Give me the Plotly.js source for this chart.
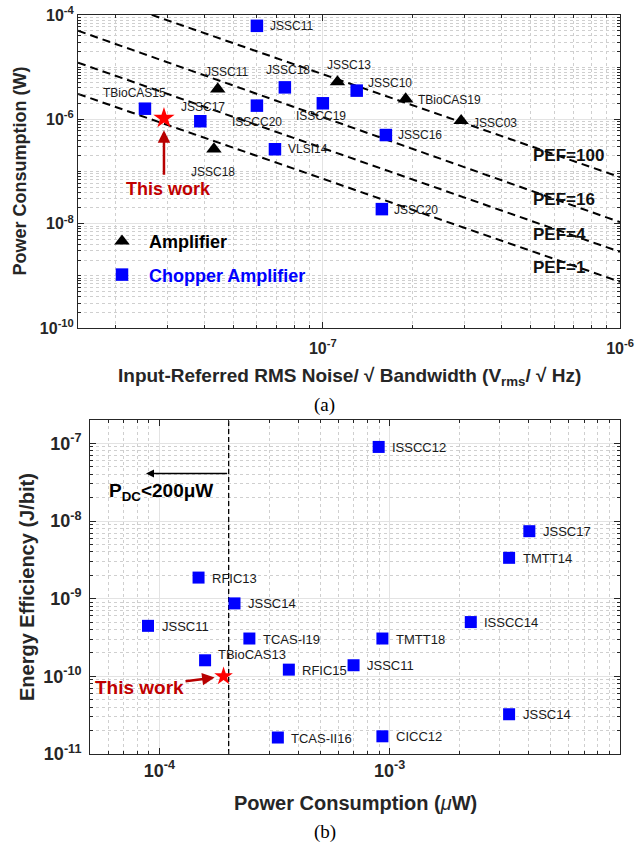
<!DOCTYPE html>
<html>
<head>
<meta charset="utf-8">
<script src="https://cdn.plot.ly/plotly-3.0.1.min.js"></script>
<style>
  html, body { margin: 0; padding: 0; background: #ffffff; }
  #chart { width: 635px; height: 844px; }
</style>
</head>
<body>
<div id="chart"></div>
<script>
// ---------- (a) power vs. input-referred noise density ----------
const ampNames  = ['JSSC11', 'JSSC18', 'JSSC13', 'TBioCAS19', 'JSSC03'];
const ampNoise  = [4.43e-8, 4.3e-8, 1.12e-7, 1.9e-7, 2.92e-7];
const ampPower  = [3.8e-6, 2.7e-7, 5.2e-6, 2.45e-6, 9.4e-7];

const chopNames = ['JSSC11', 'JSSC18', 'TBioCAS15', 'JSSC17', 'ISSCC20', 'VLSI14', 'ISSCC19', 'JSSC10', 'JSSC16', 'JSSC20'];
const chopNoise = [6.0e-8, 7.45e-8, 2.52e-8, 3.87e-8, 6.0e-8, 6.9e-8, 1.0e-7, 1.3e-7, 1.63e-7, 1.58e-7];
const chopPower = [6.2e-5, 4.1e-6, 1.6e-6, 9.2e-7, 1.83e-6, 2.67e-7, 2.03e-6, 3.55e-6, 5.0e-7, 1.9e-8];

const thisNoise = [2.92e-8];
const thisPower = [1.05e-6];

// PEF iso-lines, each a straight segment between the left and right plot edges
const pefLabels     = ['PEF=100', 'PEF=16', 'PEF=4', 'PEF=1'];
const pefNoiseEnds  = [1.5e-8, 1e-6];
const pefPowerStart = [3.1e-4, 5.0e-5, 1.22e-5, 3.07e-6];
const pefPowerEnd   = [7.8e-8, 1.07e-8, 2.88e-9, 7.7e-10];

const xTickValsA = [1e-7, 1e-6];
const xTickTextA = ['10<sup>-7</sup>', '10<sup>-6</sup>'];
const yTickValsA = [1e-10, 1e-8, 1e-6, 1e-4];
const yTickTextA = ['10<sup>-10</sup>', '10<sup>-8</sup>', '10<sup>-6</sup>', '10<sup>-4</sup>'];

// ---------- (b) energy efficiency vs. power ----------
const eeNames  = ['ISSCC12', 'JSSC17', 'TMTT14', 'ISSCC14', 'RFIC13', 'JSSC14', 'JSSC11', 'TCAS-I19',
                  'TBioCAS13', 'RFIC15', 'TCAS-II16', 'TMTT18', 'JSSC11', 'JSSC14', 'CICC12'];
const eePower  = [8.96e-4, 4.04e-3, 3.3e-3, 2.25e-3, 1.48e-4, 2.12e-4, 8.93e-5, 2.46e-4,
                  1.58e-4, 3.65e-4, 3.27e-4, 9.3e-4, 6.97e-4, 3.3e-3, 9.3e-4];
const eeEnergy = [9.0e-8, 7.4e-9, 3.36e-9, 5.0e-10, 1.87e-9, 8.7e-10, 4.47e-10, 3.07e-10,
                  1.61e-10, 1.22e-10, 1.63e-11, 3.07e-10, 1.39e-10, 3.25e-11, 1.69e-11];

const thisPowerB  = [1.9e-4];
const thisEnergyB = [1.0e-10];
const pdcLimit    = 2e-4;

const xTickValsB = [1e-4, 1e-3, 1e-2];
const xTickTextB = ['10<sup>-4</sup>', '10<sup>-3</sup>', '10<sup>-2</sup>'];
const yTickValsB = [1e-11, 1e-10, 1e-9, 1e-8, 1e-7];
const yTickTextB = ['10<sup>-11</sup>', '10<sup>-10</sup>', '10<sup>-9</sup>', '10<sup>-8</sup>', '10<sup>-7</sup>'];

// ---------- styling and placement ----------
const W = 635, H = 844;
const FONT = 'Liberation Sans, Arial, Helvetica, sans-serif';
const SERIF = 'Liberation Serif, Times New Roman, serif';
const INK = '#262626';
const LABEL = '#1a1a1a';
const BLUE = '#0000ff';
const STAR = '#ff0000';
const DARKRED = '#c00000';

const rangeXA = [1.5e-8, 1e-6], rangeYA = [1e-10, 1e-4];
const rangeXB = [5e-5, 1e-2],   rangeYB = [1e-11, 2e-7];

// point-label offsets (px): [anchor, dx, dy] with dy measured downwards
const ampLabelPos = [['center', 9, -17], ['center', -1, 23], ['center', 12, -17], ['left', 10, 1], ['left', 10, 2]];
const chopLabelPos = [['left', 11, 0], ['center', 3, -17], ['center', -10, -16], ['center', 3, -14], ['center', 0, 16],
                      ['left', 11, 0], ['center', -2, 13], ['left', 9, -8], ['left', 10, 0], ['left', 10, 1]];
const eeLabelPos = eeNames.map((n, i) => (i === 8 ? ['left', 11, -6] : ['left', 11.5, 0.5]));

const px = v => v / W;
const py = v => 1 - v / H;
const lg = Math.log10;

function minorVals(lo, hi, skip) {
  const out = [];
  for (let e = lo; e <= hi; e++) {
    for (let m = 1; m <= 9; m++) {
      const v = m * Math.pow(10, e);
      if (m === 1 && skip.some(s => Math.abs(lg(s) - e) < 1e-9)) continue;
      out.push(v);
    }
  }
  return out;
}

function logAxis(range, tickvals, ticktext, domain, anchor, fontSize, minorTicks, standoff) {
  return {
    type: 'log', range: [lg(range[0]), lg(range[1])], domain: domain, anchor: anchor,
    showline: true, linecolor: INK, linewidth: 1, mirror: 'allticks',
    ticks: 'inside', ticklen: 6, tickwidth: 1, tickcolor: INK,
    tickmode: 'array', tickvals: tickvals, ticktext: ticktext, ticklabelstandoff: standoff,
    tickfont: { family: FONT, size: fontSize, color: INK, weight: 'bold' },
    showgrid: true, gridcolor: '#e3e3e3', gridwidth: 1, zeroline: false,
    minor: {
      tickmode: 'array', tickvals: minorTicks, ticks: 'inside', ticklen: 3,
      tickwidth: 1, tickcolor: INK, showgrid: true, gridcolor: '#cfcfcf',
      griddash: 'dot', gridwidth: 1
    }
  };
}

const traces = [];

// PEF lines
pefLabels.forEach((lab, i) => {
  traces.push({
    x: pefNoiseEnds, y: [pefPowerStart[i], pefPowerEnd[i]],
    xaxis: 'x', yaxis: 'y', mode: 'lines', showlegend: false, hoverinfo: 'skip',
    line: { color: '#000000', width: 2, dash: '8px,5px' }
  });
});

traces.push({
  name: 'Amplifier', legendgroup: 'amp',
  x: ampNoise, y: ampPower, xaxis: 'x', yaxis: 'y', mode: 'markers',
  marker: { symbol: 'triangle-up', size: 13.5, color: '#000000', line: { width: 0 } }
});
traces.push({
  name: '<span style="color:' + BLUE + '">Chopper Amplifier</span>', legendgroup: 'chop',
  x: chopNoise, y: chopPower, xaxis: 'x', yaxis: 'y', mode: 'markers',
  marker: { symbol: 'square', size: 12.5, color: BLUE, line: { width: 0 } }
});
traces.push({
  x: thisNoise, y: thisPower, xaxis: 'x', yaxis: 'y', mode: 'markers', showlegend: false,
  marker: { symbol: 'star', size: 16, color: STAR, line: { width: 0 } }
});

// power limit in (b)
traces.push({
  x: [pdcLimit, pdcLimit], y: rangeYB, xaxis: 'x2', yaxis: 'y2', mode: 'lines',
  showlegend: false, hoverinfo: 'skip', line: { color: '#000000', width: 1.3, dash: '5px,3px' }
});
traces.push({
  x: eePower, y: eeEnergy, xaxis: 'x2', yaxis: 'y2', mode: 'markers', showlegend: false,
  marker: { symbol: 'square', size: 12, color: BLUE, line: { width: 0 } }
});
traces.push({
  x: thisPowerB, y: thisEnergyB, xaxis: 'x2', yaxis: 'y2', mode: 'markers', showlegend: false,
  marker: { symbol: 'star', size: 14, color: STAR, line: { width: 0 } }
});

const annotations = [];

function pointLabel(xref, yref, xv, yv, text, pos, size) {
  annotations.push({
    xref: xref, yref: yref, x: lg(xv), y: lg(yv), text: text, showarrow: false,
    xanchor: pos[0], yanchor: 'middle', xshift: pos[1], yshift: -pos[2],
    font: { family: FONT, size: size, color: LABEL, weight: 'normal' }
  });
}
ampNames.forEach((n, i) => pointLabel('x', 'y', ampNoise[i], ampPower[i], n, ampLabelPos[i], 12));
chopNames.forEach((n, i) => pointLabel('x', 'y', chopNoise[i], chopPower[i], n, chopLabelPos[i], 12));
eeNames.forEach((n, i) => pointLabel('x2', 'y2', eePower[i], eeEnergy[i], n, eeLabelPos[i], 13));

// PEF labels
const pefLabelX = 5.0e-7;
const pefLabelY = [2.0e-7, 2.86e-8, 6.1e-9, 1.47e-9];
pefLabels.forEach((lab, i) => {
  annotations.push({
    xref: 'x', yref: 'y', x: lg(pefLabelX), y: lg(pefLabelY[i]), text: lab, showarrow: false,
    xanchor: 'left', yanchor: 'middle',
    font: { family: FONT, size: 17, color: '#111111', weight: 'bold' }
  });
});

// "This work" markers in (a)
annotations.push({
  xref: 'x', yref: 'y', x: lg(thisNoise[0]), y: lg(thisPower[0]), text: '', showarrow: true,
  ax: 0, ay: 58, arrowhead: 2, arrowsize: 1, arrowwidth: 2.5, arrowcolor: '#b80000', standoff: 12
});
annotations.push({
  xref: 'x', yref: 'y', x: lg(thisNoise[0]), y: lg(thisPower[0]), text: 'This work', showarrow: false,
  xshift: 5, yshift: -71, xanchor: 'center', yanchor: 'middle',
  font: { family: FONT, size: 18, color: DARKRED, weight: 'bold' }
});

// "This work" in (b)
annotations.push({
  xref: 'x2', yref: 'y2', x: lg(thisPowerB[0]), y: lg(thisEnergyB[0]), text: 'This work', showarrow: true,
  ax: -84, ay: 11, arrowhead: 2, arrowsize: 1, arrowwidth: 2.5, arrowcolor: '#b80000', standoff: 9,
  font: { family: FONT, size: 19, color: DARKRED, weight: 'bold' }
});

// P_DC arrow and label in (b)
const pdcArrowTip = 8.75e-5, pdcArrowY = 4.1e-8;
annotations.push({
  xref: 'x2', yref: 'y2', axref: 'x2', ayref: 'y2',
  x: lg(pdcArrowTip), y: lg(pdcArrowY), ax: lg(pdcLimit), ay: lg(pdcArrowY),
  text: '', showarrow: true, arrowhead: 2, arrowsize: 1, arrowwidth: 1.6, arrowcolor: '#000000', standoff: 0
});
annotations.push({
  xref: 'x2', yref: 'y2', x: lg(5.9e-5), y: lg(2.38e-8), text: 'P<sub>DC</sub>&lt;200μW', showarrow: false,
  xanchor: 'left', yanchor: 'middle',
  font: { family: FONT, size: 19, color: '#000000', weight: 'bold' }
});

// axis titles and captions
function paperText(text, x, y, size, opts) {
  annotations.push(Object.assign({
    xref: 'paper', yref: 'paper', x: px(x), y: py(y), text: text, showarrow: false,
    xanchor: 'center', yanchor: 'middle',
    font: { family: FONT, size: size, color: INK, weight: 'bold' }
  }, opts || {}));
}
paperText('Power Consumption (W)', 20, 171.5, 18, { textangle: -90 });
paperText('Input-Referred RMS Noise/ √ Bandwidth (V<sub>rms</sub>/ √ Hz)', 349, 377, 19);
paperText('(a)', 324, 405, 19, { font: { family: SERIF, size: 19, color: '#000000' } });
paperText('Energy Efficiency (J/bit)', 27, 587, 20, { textangle: -90 });
paperText('Power Consumption (<i style="font-weight:normal">μ</i>W)', 355, 803, 20);
paperText('(b)', 325, 832, 19, { font: { family: SERIF, size: 19, color: '#000000' } });

const layout = {
  width: W, height: H,
  margin: { l: 0, r: 0, t: 0, b: 0 },
  paper_bgcolor: '#ffffff', plot_bgcolor: '#ffffff',
  showlegend: true,
  legend: {
    x: px(95), y: py(223), xanchor: 'left', yanchor: 'top',
    bgcolor: 'rgba(0,0,0,0)', borderwidth: 0, itemwidth: 44,
    traceorder: 'grouped', tracegroupgap: 7, itemsizing: 'trace',
    font: { family: FONT, size: 18, color: '#000000', weight: 'bold' }
  },
  xaxis: logAxis(rangeXA, xTickValsA, xTickTextA, [px(78), px(620)], 'y', 16,
                 minorVals(-8, -7, [1e-7]), 6),
  yaxis: logAxis(rangeYA, yTickValsA, yTickTextA, [py(328), py(15)], 'x', 16,
                 minorVals(-10, -5, yTickValsA), 0),
  xaxis2: logAxis(rangeXB, xTickValsB, xTickTextB, [px(90), px(620)], 'y2', 18,
                  minorVals(-5, -3, xTickValsB), 0),
  yaxis2: logAxis(rangeYB, yTickValsB, yTickTextB, [py(754), py(420)], 'x2', 18,
                  minorVals(-11, -7, yTickValsB), 4),
  annotations: annotations,
  hovermode: false
};

Plotly.newPlot('chart', traces, layout, { staticPlot: true, displayModeBar: false });
</script>
</body>
</html>
